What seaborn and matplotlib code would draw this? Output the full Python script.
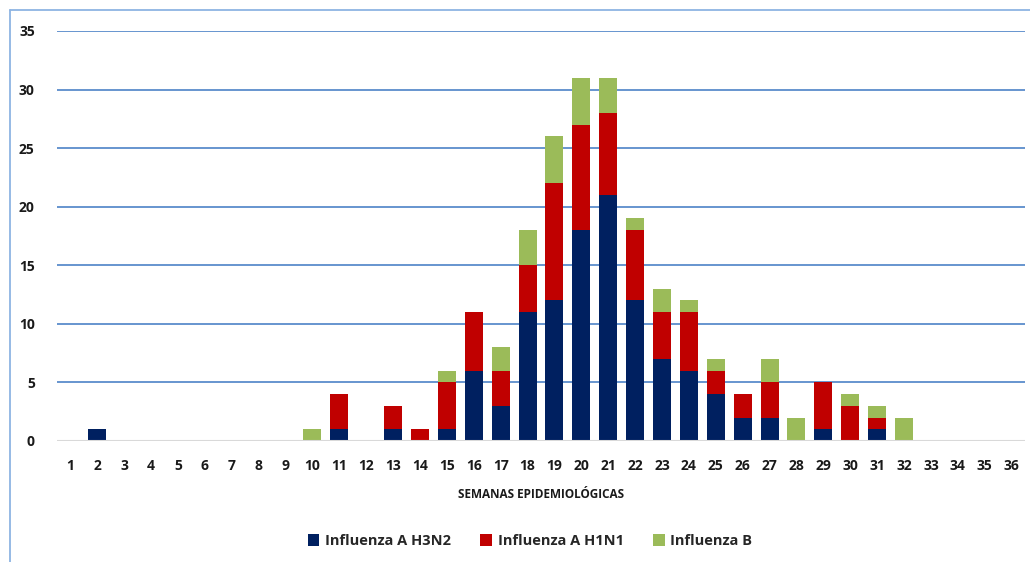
import matplotlib
matplotlib.use("Agg")
import matplotlib.pyplot as plt
from matplotlib.lines import Line2D
from matplotlib.patches import Patch
import seaborn as sns
import numpy as np
import pandas as pd

weeks = list(range(1, 37))
h3n2 = [0, 1, 0, 0, 0, 0, 0, 0, 0, 0, 1, 0, 1, 0, 1, 6, 3, 11, 12, 18, 21, 12, 7, 6, 4, 2, 2, 0, 1, 0, 1, 0, 0, 0, 0, 0]
h1n1 = [0, 0, 0, 0, 0, 0, 0, 0, 0, 0, 3, 0, 2, 1, 4, 5, 3, 4, 10, 9, 7, 6, 4, 5, 2, 2, 3, 0, 4, 3, 1, 0, 0, 0, 0, 0]
flu_b = [0, 0, 0, 0, 0, 0, 0, 0, 0, 1, 0, 0, 0, 0, 1, 0, 2, 3, 4, 4, 3, 1, 2, 1, 1, 0, 2, 2, 0, 1, 1, 2, 0, 0, 0, 0]
series_names = ["Influenza A H3N2", "Influenza A H1N1", "Influenza B"]
colors = ["#002060", "#C00000", "#9BBB59"]
y_ticks = [0, 5, 10, 15, 20, 25, 30, 35]

sns.set_theme(style="white")
FONT = ["Open Sans", "DejaVu Sans"]
plt.rcParams["font.family"] = FONT
plt.rcParams["font.weight"] = "bold"

df = pd.DataFrame({"week": [str(w) for w in weeks], "h3n2": h3n2, "h1n1": h1n1, "b": flu_b})
df["lvl1"] = df["h3n2"]
df["lvl2"] = df["h3n2"] + df["h1n1"]
df["lvl3"] = df["lvl2"] + df["b"]

fig = plt.figure(figsize=(10.30, 5.62), dpi=100)
ax = fig.add_axes([57 / 1030, 1 - 441 / 562, (1025 - 57) / 1030, (441 - 31) / 562])

# stacked bars: draw cumulative totals from top layer down
for col, color in zip(["lvl3", "lvl2", "lvl1"], colors[::-1]):
    sns.barplot(data=df, x="week", y=col, color=color, saturation=1, width=0.67,
                edgecolor="none", linewidth=0, ax=ax, order=df["week"].tolist(), zorder=3)

ax.set_ylim(0, 35)
ax.set_xlim(-0.5, 35.5)
ax.set_yticks(y_ticks)
ax.set_yticklabels([str(t) for t in y_ticks], fontsize=10, fontweight="bold", color="#1a1a1a")
ax.set_xticklabels([str(w) for w in weeks], fontsize=10, fontweight="bold", color="#1a1a1a")
ax.tick_params(axis="y", length=0, pad=16)
ax.tick_params(axis="x", length=0, pad=13)
for t in y_ticks[1:]:
    ax.axhline(t, color="#5B8CCB", linewidth=1.3, zorder=1)
ax.axhline(0, color="#D9D9D9", linewidth=1.5, zorder=4)
for s in ax.spines.values():
    s.set_visible(False)
ax.set_ylabel("")
ax.set_xlabel("SEMANAS EPIDEMIOLÓGICAS", fontsize=8.5, fontweight="bold", color="#1a1a1a", labelpad=11)

handles = [Patch(facecolor=c, edgecolor="none") for c in colors]
fig.legend(handles, series_names, loc="center", bbox_to_anchor=(530 / 1030, 1 - 541 / 562),
           ncol=3, frameon=False, prop={"family": FONT, "weight": "bold", "size": 10.5},
           handlelength=0.8, handleheight=0.8, handletextpad=0.4, columnspacing=2.0)

# chart frame
fig.add_artist(Line2D([10 / 1030, 10 / 1030], [0, 1 - 10 / 562], transform=fig.transFigure,
                      color="#8EB4E3", linewidth=1.3))
fig.add_artist(Line2D([10 / 1030, 1], [1 - 10 / 562, 1 - 10 / 562], transform=fig.transFigure,
                      color="#8EB4E3", linewidth=1.3))

fig.savefig("out.png", dpi=100, facecolor="white")
